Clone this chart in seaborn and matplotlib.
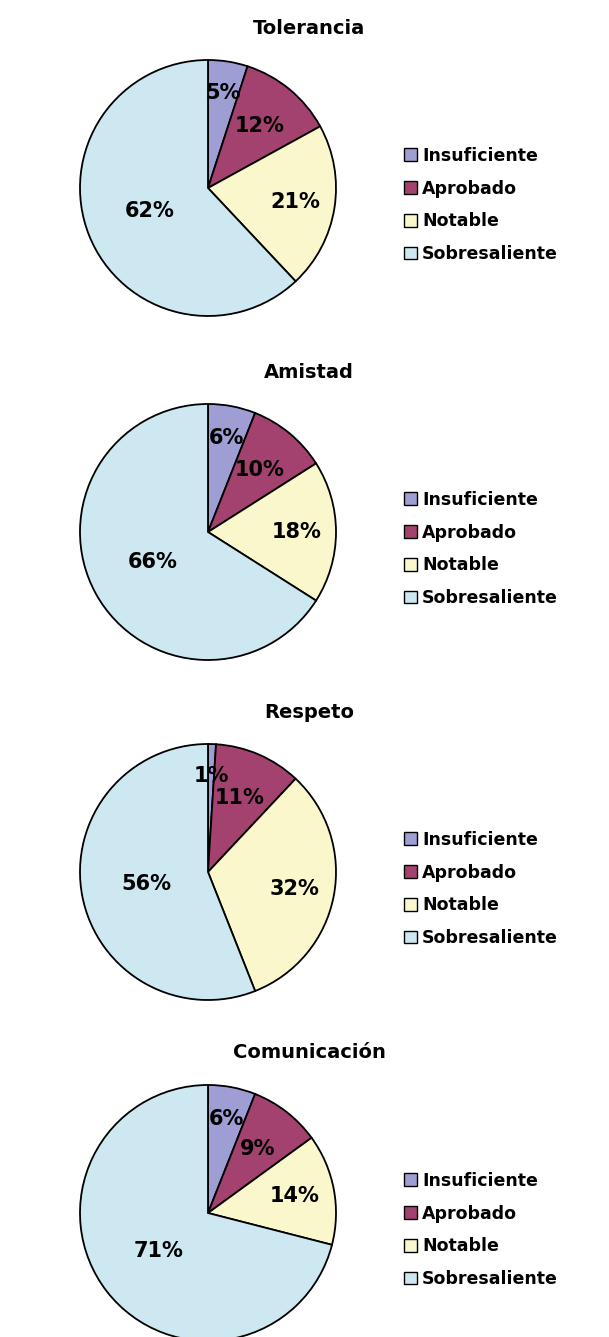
import matplotlib.pyplot as plt
import seaborn as sns
import numpy as np
from matplotlib.patches import Patch

# Datos de las encuestas (porcentajes)
categories = ['Insuficiente', 'Aprobado', 'Notable', 'Sobresaliente']
titles = ['Tolerancia', 'Amistad', 'Respeto', 'Comunicación']
tolerancia = [5, 12, 21, 62]
amistad = [6, 10, 18, 66]
respeto = [1, 11, 32, 56]
comunicacion = [6, 9, 14, 71]
series = [tolerancia, amistad, respeto, comunicacion]

colors = ['#9E9ED4', '#A3416F', '#F9F7CB', '#CDE8F1']
# distancia radial de cada etiqueta (fracción del radio)
label_r = [0.75, 0.63, 0.69, 0.49]

sns.set_theme(style="white")
plt.rcParams['font.family'] = ['DejaVu Sans']

W, H = 609, 1337
fig = plt.figure(figsize=(W / 100, H / 100), dpi=100)
fig.patch.set_facecolor('white')

centers_y = [188, 532, 872, 1213]
cx, R = 208, 128
pad = 1.04

for title, values, cy in zip(titles, series, centers_y):
    side = 2 * R * pad
    ax = fig.add_axes([(cx - side / 2) / W, 1 - (cy + side / 2) / H, side / W, side / H])
    wedges, texts, autotexts = ax.pie(
        values, colors=colors, startangle=90, counterclock=False,
        autopct=lambda p: f'{p:.0f}%',
        wedgeprops=dict(edgecolor='black', linewidth=1.3),
        textprops=dict(fontsize=15, fontweight='bold', color='black'),
    )
    for w, t, r in zip(wedges, autotexts, label_r):
        theta = np.deg2rad((w.theta1 + w.theta2) / 2)
        t.set_position((r * np.cos(theta), r * np.sin(theta)))
        t.set_ha('center')
        t.set_va('center')
    ax.set_xlim(-pad, pad)
    ax.set_ylim(-pad, pad)
    ax.set_aspect('equal')

    fig.text(309 / W, 1 - (cy - 160) / H, title, ha='center', va='center',
             fontsize=14, fontweight='bold', color='black')

    handles = [Patch(facecolor=c, edgecolor='black', linewidth=1) for c in colors]
    leg = ax.legend(handles, categories, loc='center left',
                    bbox_to_anchor=(404 / W, 1 - (cy + 17) / H), bbox_transform=fig.transFigure,
                    frameon=False, prop=dict(weight='bold', size=12.5),
                    handlelength=0.75, handleheight=0.75, handletextpad=0.3,
                    labelspacing=0.85, borderpad=0, borderaxespad=0)
    for txt in leg.get_texts():
        txt.set_color('black')

fig.savefig('out.png', dpi=100)
